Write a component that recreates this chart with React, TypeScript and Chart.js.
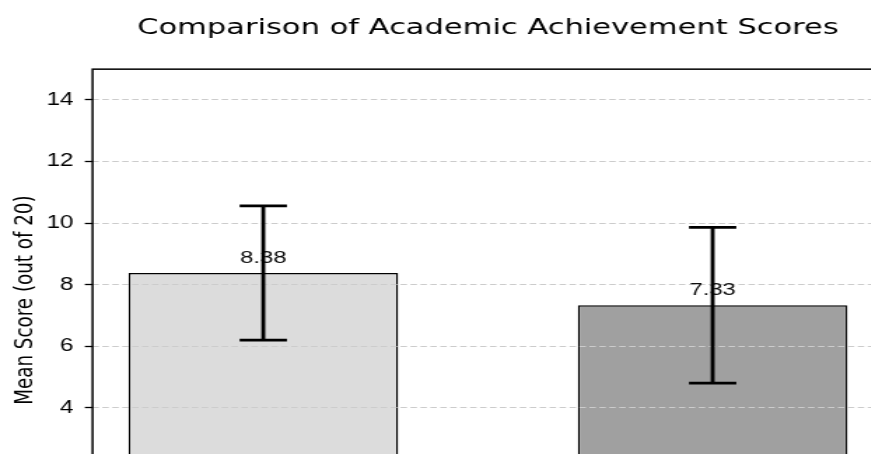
import React, { useEffect, useRef } from 'react';
import { Chart, registerables } from 'chart.js';

Chart.register(...registerables);

// ---- data ----
const categories = ['Group A', 'Group B'];
const meanScores = [8.38, 7.33];
const errorValues = [2.18, 2.53];
const valueLabels = ['8.38', '7.33'];
const barColors = ['#dcdcdc', '#a0a0a0'];
const yTicks = [0, 2, 4, 6, 8, 10, 12, 14];

const TITLE = 'Comparison of Academic Achievement Scores';
const Y_TITLE = 'Mean Score (out of 20)';

// ---- layout (native canvas px, canvas is stretched horizontally by SX) ----
const SX = 1.4;
const W = 680;
const H = 620;

const overlayPlugin = {
  id: 'overlay',
  afterDraw(chart: any) {
    const { ctx, chartArea } = chart;
    const xs = chart.scales.x;
    const ys = chart.scales.y;
    ctx.save();
    // frame
    ctx.strokeStyle = '#000';
    ctx.lineWidth = 1.5;
    ctx.setLineDash([]);
    ctx.strokeRect(chartArea.left, chartArea.top, chartArea.right - chartArea.left, chartArea.bottom - chartArea.top);

    // value labels
    ctx.fillStyle = '#0d0d0d';
    ctx.font = '17px "Liberation Sans"';
    ctx.textAlign = 'center';
    ctx.textBaseline = 'middle';
    meanScores.forEach((m, i) => {
      const x = xs.getPixelForValue(i);
      const y = ys.getPixelForValue(m);
      ctx.fillText(valueLabels[i], x, y - 15);
    });

    // error bars
    ctx.strokeStyle = '#000';
    ctx.lineWidth = 2.8;
    const cap = 16.9;
    meanScores.forEach((m, i) => {
      const x = xs.getPixelForValue(i);
      const yTop = ys.getPixelForValue(m + errorValues[i]);
      const yBot = ys.getPixelForValue(m - errorValues[i]);
      ctx.beginPath();
      ctx.moveTo(x, yTop);
      ctx.lineTo(x, yBot);
      ctx.moveTo(x - cap, yTop);
      ctx.lineTo(x + cap, yTop);
      ctx.moveTo(x - cap, yBot);
      ctx.lineTo(x + cap, yBot);
      ctx.stroke();
    });
    ctx.restore();
  },
};

export default function App() {
  const ref = useRef<HTMLCanvasElement | null>(null);

  useEffect(() => {
    const canvas = ref.current;
    if (!canvas) return;
    const chart = new Chart(canvas, {
      type: 'bar',
      data: {
        datasets: [
          {
            data: meanScores.map((v, i) => ({ x: i, y: v })),
            backgroundColor: barColors,
            borderColor: '#000',
            borderWidth: 1.4,
            borderSkipped: false,
            categoryPercentage: 1,
            barPercentage: 0.6,
          } as any,
        ],
      },
      options: {
        responsive: false,
        animation: false,
        devicePixelRatio: 1,
        layout: { padding: { left: 0, top: 0, right: 49, bottom: 0 } },
        plugins: {
          legend: { display: false },
          tooltip: { enabled: false },
          title: {
            display: true,
            text: TITLE,
            fullSize: false,
            color: '#000',
            font: { family: 'DejaVu Sans', size: 21.8, weight: 'normal' },
            padding: { top: 15.1, bottom: 27.9 },
          },
        },
        scales: {
          x: {
            type: 'linear',
            min: -0.38,
            max: 1.38,
            offset: false,
            grid: { display: false },
            border: { display: false },
            afterBuildTicks: (axis: any) => {
              axis.ticks = categories.map((_, i) => ({ value: i }));
            },
            ticks: {
              color: '#000',
              font: { family: 'Liberation Sans', size: 17.5 },
              callback: (v: any) => categories[v] ?? '',
            },
            afterFit: (axis: any) => {
              axis.height = 89;
            },
          },
          y: {
            type: 'linear',
            min: 0,
            max: 15,
            z: 1,
            afterBuildTicks: (axis: any) => {
              axis.ticks = yTicks.map((v) => ({ value: v }));
            },
            ticks: {
              color: '#000',
              padding: 8,
              font: { family: 'Liberation Sans', size: 17.5 },
            },
            grid: {
              z: 1,
              color: '#cccccc',
              lineWidth: 1,
              tickColor: '#000',
              tickWidth: 1.3,
              tickLength: 5.5,
            },
            border: { display: false, dash: [4.6, 2.5] },
            title: {
              display: true,
              text: Y_TITLE,
              color: '#000',
              font: { family: 'DejaVu Sans', size: 18.3 },
              padding: { top: 6.9, bottom: 0 },
            },
            afterFit: (axis: any) => {
              axis.width = 66.1;
            },
          },
        },
      } as any,
      plugins: [overlayPlugin],
    });
    return () => chart.destroy();
  }, []);

  return (
    <div
      style={{
        position: 'fixed',
        left: 0,
        top: 0,
        width: 871,
        height: 454,
        overflow: 'hidden',
        background: '#fff',
      }}
    >
      <canvas
        ref={ref}
        width={W}
        height={H}
        style={{ width: W * SX, height: H, display: 'block' }}
      />
    </div>
  );
}
